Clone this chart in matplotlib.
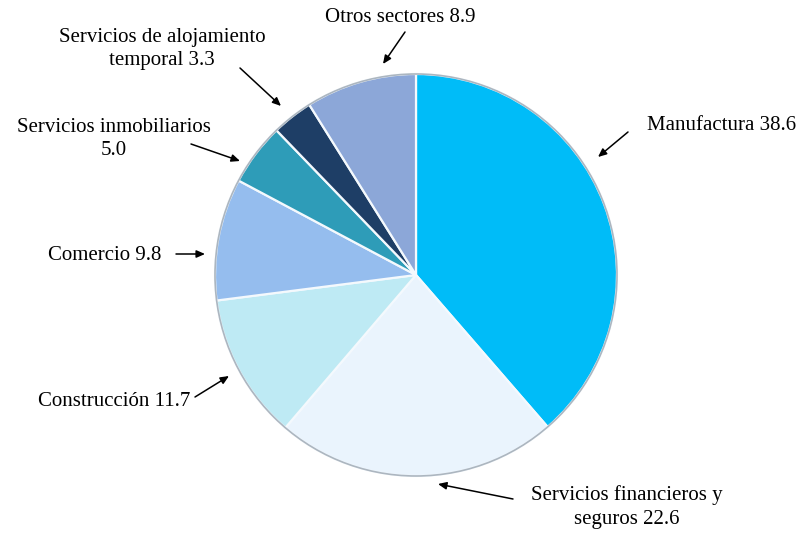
import matplotlib
matplotlib.use("Agg")
import matplotlib.pyplot as plt
from matplotlib.patches import Circle

# Data
sectors = ["Manufactura", "Servicios financieros y\nseguros", "Construcción", "Comercio",
           "Servicios inmobiliarios\n", "Servicios de alojamiento\ntemporal", "Otros sectores"]
values = [38.6, 22.6, 11.7, 9.8, 5.0, 3.3, 8.9]
colors = ["#00BCF8", "#EAF4FD", "#BEEAF4", "#95BDEE", "#2E9CB8", "#1E3E66", "#8CA7D8"]

# Layout (pixel coordinates, y measured from top)
W, H = 802, 534
pie_center = (416, 275)
pie_radius = 201
# text anchor centers and arrow (tail -> head)
label_pos = [(722, 125), (627, 507), (114, 402), (105, 255), (114, 139), (162, 49), (400, 18)]
arrow_tail = [(628, 132), (513, 499), (195, 397), (176, 254), (191, 144), (240, 68), (405, 32)]
arrow_head = [(598, 157), (438, 484), (229, 376), (205, 254), (240, 161), (281, 106), (383, 64)]

plt.rcParams['font.family'] = ['Liberation Serif', 'DejaVu Serif']

fig = plt.figure(figsize=(W / 100, H / 100), dpi=100)
ax = fig.add_axes([0, 0, 1, 1])

def fy(y):
    return H - y

wedges, _ = ax.pie(values, colors=colors, startangle=90, counterclock=False,
                   center=(pie_center[0], fy(pie_center[1])), radius=pie_radius,
                   wedgeprops=dict(edgecolor="#F4F9FD", linewidth=1.6))
ax.add_patch(Circle((pie_center[0], fy(pie_center[1])), pie_radius, fill=False,
                    edgecolor="#8E9AA6", linewidth=1.2, alpha=0.7, zorder=5))

for name, val, (tx, ty), tail, head in zip(sectors, values, label_pos, arrow_tail, arrow_head):
    txt = name.rstrip("\n")
    if name.endswith("\n"):
        txt = txt + "\n" + f"{val:.1f}"
    else:
        txt = txt + " " + f"{val:.1f}"
    ax.text(tx, fy(ty), txt, ha="center", va="center", fontsize=15, linespacing=1.34,
            color="black")
    ax.annotate("", xy=(head[0], fy(head[1])), xytext=(tail[0], fy(tail[1])),
                arrowprops=dict(arrowstyle="-|>,head_length=0.5,head_width=0.22",
                                color="black", lw=1.1, shrinkA=0, shrinkB=0))

ax.set_xlim(0, W)
ax.set_ylim(0, H)
ax.set_aspect("equal")
ax.axis("off")
fig.savefig("out.png", dpi=100)
